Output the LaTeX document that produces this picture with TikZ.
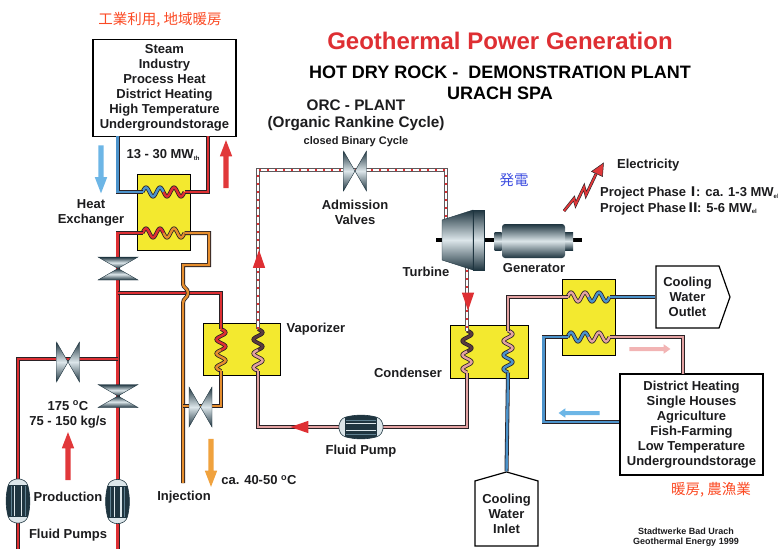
\documentclass[tikz,border=0pt]{standalone}
\usepackage{xcolor}
\usepackage{fontspec}
\usepackage{tikz}
\usetikzlibrary{shapes,shapes.symbols,shapes.arrows,shapes.geometric,positioning,calc}
\setmainfont{Liberation Sans}
\newfontfamily\cjk{Noto Sans CJK JP}
\definecolor{pipeedge}{HTML}{2A2226}
\definecolor{pipered}{HTML}{DE2F33}
\definecolor{pipeblue}{HTML}{4C93CB}
\definecolor{pipepink}{HTML}{E3A2A2}
\definecolor{pipeorange}{HTML}{E68E2E}
\definecolor{pipedark}{HTML}{5A3A40}
\definecolor{hxyellow}{HTML}{F3E92F}
\definecolor{steelA}{HTML}{1F3540}
\definecolor{steelB}{HTML}{DCE6EA}
\definecolor{steelC}{HTML}{5F8090}
\definecolor{skyarrow}{HTML}{6DB6E6}
\definecolor{redarrow}{HTML}{E1383A}
\definecolor{orangearrow}{HTML}{F0A23E}
\definecolor{pinkarrow}{HTML}{F2B4B4}
\definecolor{labelred}{HTML}{FB4A24}
\definecolor{labelblue}{HTML}{3F4FE0}
\definecolor{labeltext}{HTML}{1C1C1E}
% coils, valves and pumps
\newcommand{\hcoil}[4]{%
  \coordinate (#1) at (#2);
  \coordinate (#1-w) at ([xshift=-21pt]#1);
  \coordinate (#1-e) at ([xshift=21pt]#1);
  \draw[#3, shift={(#1)}] plot[domain=-21:0, samples=31] (\x, {4.5*sin(\x*360/14)});
  \draw[#4, shift={(#1)}] plot[domain=0:21, samples=31] (\x, {4.5*sin(\x*360/14)});
}
\newcommand{\vcoil}[4]{%
  \coordinate (#1) at (#2);
  \coordinate (#1-n) at ([yshift=21pt]#1);
  \coordinate (#1-s) at ([yshift=-21pt]#1);
  \draw[#3, shift={(#1)}] plot[domain=-21:0, samples=31] ({-4.5*sin(\x*360/14)}, \x);
  \draw[#4, shift={(#1)}] plot[domain=0:21, samples=31] ({-4.5*sin(\x*360/14)}, \x);
}
\newcommand{\gatevalve}[3]{%
  \coordinate (#1) at (#2);
  \shade[shift={(#1)}, rotate=#3, top color=steelA, bottom color=steelA, middle color=steelB, draw=steelA, line width=0.4pt]
    (-11.5,-20) -- (0,0) -- (-11.5,20) -- cycle;
  \shade[shift={(#1)}, rotate=#3, top color=steelA, bottom color=steelA, middle color=steelB, draw=steelA, line width=0.4pt]
    (11.5,-20) -- (0,0) -- (11.5,20) -- cycle;
}
\newcommand{\fluidpump}[3]{%
  \coordinate (#1) at (#2);
  \begin{scope}[shift={(#1)}, rotate=#3]
    \fill[steelB, draw=steelA, line width=0.6pt] (-10,-15) .. controls (-8,-24.5) and (8,-24.5) .. (10,-15)
      .. controls (12.5,-5) and (12.5,5) .. (10,15) .. controls (8,24.5) and (-8,24.5) .. (-10,15)
      .. controls (-12.5,5) and (-12.5,-5) .. cycle;
    \begin{scope}
      \clip (-10,-15) .. controls (-8,-24.5) and (8,-24.5) .. (10,-15)
        .. controls (12.5,-5) and (12.5,5) .. (10,15) .. controls (8,24.5) and (-8,24.5) .. (-10,15)
        .. controls (-12.5,5) and (-12.5,-5) .. cycle;
      \fill[steelA] (-14,-16) rectangle (14,16);
      \fill[steelC] (-7.5,-15) rectangle (-6.5,15);
      \fill[steelB] (-4,-15) rectangle (-2.8,15);
      \fill[steelB] (2.8,-15) rectangle (4,15);
      \fill[steelC] (6.5,-15) rectangle (7.5,15);
    \end{scope}
  \end{scope}
}
\newcommand{\subel}[1]{\raisebox{-1.5pt}{\fontsize{6}{6}\selectfont #1}}
\begin{document}
\begin{tikzpicture}[
    x=1pt, y=-1pt,
    font=\fontsize{13}{15.1}\selectfont\bfseries,
    text=labeltext,
    pipe/.style={draw=pipeedge, line width=4pt, line join=miter, postaction={draw=#1, line width=2.4pt}},
    hotpipe/.style={pipe=pipered},
    coldpipe/.style={pipe=pipeblue},
    warmpipe/.style={pipe=pipepink},
    returnpipe/.style={pipe=pipeorange},
    darkpipe/.style={pipe=pipedark},
    orcpipe/.style={draw=pipeedge!75, line width=4pt, line join=miter,
        postaction={draw=white, line width=2pt},
        postaction={draw=pipered, line width=2pt, dash pattern=on 1.6pt off 6.4pt}},
    exchanger/.style={rectangle, draw=black, fill=hxyellow, line width=1pt, inner sep=0pt},
    infobox/.style={rectangle, draw=black, fill=white, line width=1.3pt, align=center, inner sep=0pt},
    caption/.style={align=center, inner sep=0pt},
    jplabel/.style={inner sep=0pt, font=\cjk\fontsize{14.5}{17}\selectfont},
    flowarrow/.style={single arrow, draw=none, inner sep=2.4pt, single arrow head extend=3.6pt,
        single arrow tip angle=42, minimum height=48pt},
    smallarrow/.style={single arrow, draw=none, inner sep=1.8pt, single arrow head extend=2.8pt,
        single arrow tip angle=70, minimum height=41pt},
    flowhead/.style={isosceles triangle, isosceles triangle apex angle=38, draw=none, fill=pipered,
        inner sep=0pt, minimum height=18pt}
]
    \useasboundingbox (0,0) rectangle (778,549);

    % Titles
    \node[caption, text=pipered, font=\fontsize{24}{28}\selectfont\bfseries] (title) at (500,41) {Geothermal Power Generation};
    \node[caption, text=black, font=\fontsize{18}{21}\selectfont\bfseries] (subtitle) at (500,82.5) {HOT DRY ROCK -\ \ DEMONSTRATION PLANT\\URACH SPA};
    \node[jplabel, text=labelred] (usejp) at (160,20) {工業利用, 地域暖房};
    \node[jplabel, text=labelred] (heatjp) at (711,490) {暖房, 農漁業};
    \node[jplabel, text=labelblue] (powerjp) at (514,180) {発電};

    % Boxes
    \node[infobox, minimum width=143pt, minimum height=97pt] (steambox) at (164.5,88)
        {Steam\\Industry\\Process Heat\\District Heating\\High Temperature\\Undergroundstorage};
    \node[infobox, minimum width=143pt, minimum height=101pt] (districtbox) at (691.5,424.5)
        {District Heating\\Single Houses\\Agriculture\\Fish-Farming\\Low Temperature\\Undergroundstorage};
    \node[signal, signal to=east, signal pointer angle=141, draw=black, fill=white, line width=1.2pt, align=center,
        inner sep=0pt, minimum width=74pt, minimum height=62pt] (coolout) at (687.5,297) {Cooling\\Water\\Outlet};
    \node[signal, signal to=north, signal pointer angle=148, draw=black, fill=white, line width=1.2pt, align=center,
        inner sep=0pt, minimum width=63pt, minimum height=72pt] (coolin) at (506.5,513.5) {Cooling\\Water\\Inlet};

    % Heat exchangers
    \node[exchanger, minimum width=53pt, minimum height=76pt] (hxtop) at (163.5,212) {};
    \node[exchanger, minimum width=77pt, minimum height=52pt] (vaporizer) at (241.5,349) {};
    \node[exchanger, minimum width=78pt, minimum height=53pt] (condenser) at (489,351.5) {};
    \node[exchanger, minimum width=53pt, minimum height=76pt] (hxcool) at (588.5,317) {};

    \hcoil{hxtopA}{163.5,192}{coldpipe}{hotpipe}
    \hcoil{hxtopB}{163.5,233}{hotpipe}{returnpipe}
    \vcoil{vapA}{221,350}{hotpipe}{returnpipe}
    \vcoil{vapB}{258,350}{darkpipe}{warmpipe}
    \vcoil{conA}{467,351.5}{darkpipe}{warmpipe}
    \vcoil{conB}{508,351.5}{warmpipe}{coldpipe}
    \hcoil{hxcoolA}{588.5,297}{warmpipe}{coldpipe}
    \hcoil{hxcoolB}{588.5,337}{coldpipe}{warmpipe}

    % Points on the pipes
    \coordinate (steamret) at (208,136);
    \coordinate (prodtee) at (117.5,293);
    \coordinate (prodside) at (117.5,359);
    \coordinate (wellA) at (18,549);
    \coordinate (wellB) at (117.5,549);
    \coordinate (injwell) at (183,483);
    \coordinate (injtee) at (183,406);
    \coordinate (turbinein) at (446,225);
    \coordinate (turbineout) at (467,262);

    % Geothermal side
    \draw[coldpipe] (hxtopA-w) -| (117.5,136);
    \draw[hotpipe] (hxtopA-e) -| (steamret);
    \draw[hotpipe] (hxtopB-w) -| (wellB);
    \draw[hotpipe] (prodtee) -| (vapA-n);
    \draw[hotpipe] (prodside) -| (wellA);
    \draw[returnpipe] (hxtopB-e) -| (209,265) -| (183,284) .. controls (183,288) and (188,288) .. (188,293)
        .. controls (188,298) and (183,298) .. (183,303) -- (injwell);
    \draw[returnpipe] (vapA-s) |- (injtee);

    % ORC side
    \draw[orcpipe] (vapB-n) |- (355,170) -| (turbinein);
    \draw[orcpipe] (turbineout) -- (conA-n);
    \draw[warmpipe] (conA-s) |- (361,427) -| (vapB-s);

    % Cooling and low temperature side
    \draw[warmpipe] (conB-n) |- (hxcoolA-w);
    \draw[coldpipe] (coolin.north) -- (conB-s);
    \draw[coldpipe] (hxcoolA-e) -- (coolout.west);
    \draw[coldpipe] (hxcoolB-w) -| (543.5,422) -- (districtbox.west |- 543.5,422);
    \draw[warmpipe] (hxcoolB-e) -| (683,374);

    % Valves
    \gatevalve{valvetop}{118,268.5}{90}
    \gatevalve{valveside}{68,362}{0}
    \gatevalve{valveprod}{118,396}{90}
    \gatevalve{valveinj}{200.5,407}{0}
    \gatevalve{valveorc}{355,171}{0}

    % Pumps
    \fluidpump{pumpA}{18,501}{0}
    \fluidpump{pumpB}{117.5,501.5}{0}
    \fluidpump{pumpC}{361,427}{90}

    % Turbine and generator
    \draw[black, line width=3.6pt] (436,240) -- (496,240);
    \draw[black, line width=3.6pt] (570,240) -- (582,240);
    \shade[top color=steelA, bottom color=steelA, middle color=steelB, draw=steelA, line width=0.4pt]
        (442,220) -- (473,210) -- (473,270) -- (442,260) -- cycle;
    \shade[top color=steelA, bottom color=steelA, middle color=steelB, draw=steelA, line width=0.4pt]
        (473,210) -- (484,210) -- (484,270) -- (473,270) -- cycle;
    \node[rectangle, top color=steelA, bottom color=steelA, middle color=steelB, minimum width=7pt, minimum height=18pt, inner sep=0pt] (couplingA) at (498,241) {};
    \node[rectangle, top color=steelA, bottom color=steelA, middle color=steelB, minimum width=8pt, minimum height=18pt, inner sep=0pt] (couplingB) at (569,241) {};
    \node[rectangle, rounded corners=3pt, top color=steelA, bottom color=steelA, middle color=steelB, minimum width=63pt, minimum height=34pt, inner sep=0pt] (generator) at (533.5,241) {};

    % Flow arrows
    \node[flowarrow, fill=skyarrow, rotate=-90] (arrowcold) at (101,166) {};
    \node[flowarrow, fill=redarrow, rotate=90] (arrowhot) at (226,167.5) {};
    \node[flowarrow, fill=redarrow, rotate=90] (arrowprod) at (68,459.5) {};
    \node[flowarrow, fill=orangearrow, rotate=-90] (arrowinj) at (211,459.5) {};
    \node[smallarrow, fill=pinkarrow] (arrowwarm) at (648.5,349) {};
    \node[smallarrow, fill=skyarrow, rotate=180] (arrowback) at (580.5,413) {};
    \node[flowhead, rotate=90] (headup) at (259,263.5) {};
    \node[flowhead, rotate=-90] (headdown) at (468,297) {};
    \node[flowhead, rotate=180] (headleft) at (304,427) {};

    % Electricity
    \draw[pipeedge, line width=3pt, line join=miter] (564,211) -- (574,198.5) -- (575.7,204.5) -- (584,187) -- (586,195) -- (596,174);
    \draw[redarrow, line width=1.8pt, line join=miter] (564,211) -- (574,198.5) -- (575.7,204.5) -- (584,187) -- (586,195) -- (596,174);
    \fill[redarrow, draw=pipeedge, line width=0.5pt] (603.5,163) -- (591.5,171.5) -- (602.5,176.5) -- cycle;

    % Labels
    \node[caption] (mwtop) at (163,155) {13 - 30 MW\subel{th}};
    \node[caption] (hxlabel) at (91,212.5) {Heat\\Exchanger};
    \node[caption] (wellflow) at (68,414.5) {175 \textsuperscript{o}C\\75 - 150 kg/s};
    \node[caption] (production) at (68,497) {Production};
    \node[caption] (fluidpumps) at (68,535) {Fluid Pumps};
    \node[caption] (injection) at (184,497) {Injection};
    \node[caption] (injtemp) at (259,480) {ca. 40-50 \textsuperscript{o}C};
    \node[caption, font=\fontsize{15.3}{17}\selectfont\bfseries] (orclabel) at (356,115) {ORC - PLANT\\(Organic Rankine Cycle)};
    \node[caption, font=\fontsize{11}{12}\selectfont\bfseries] (binary) at (356,141.5) {closed Binary Cycle};
    \node[caption] (admission) at (355,212) {Admission\\Valves};
    \node[caption] (vaplabel) at (316,329) {Vaporizer};
    \node[caption] (conlabel) at (408,373) {Condenser};
    \node[caption] (pumplabel) at (361,451) {Fluid Pump};
    \node[caption] (turbinelabel) at (426,272) {Turbine};
    \node[caption] (genlabel) at (534,268.5) {Generator};
    \node[caption, anchor=west] (electricity) at (617,165) {Electricity};
    \node[caption, anchor=west, align=left] (phases) at (600,201) {Project Phase\hspace{0.5pt}{\cjk Ⅰ}\hspace{-3.5pt}: ca. 1-3 MW\subel{el}\\Project Phase\hspace{0.5pt}{\cjk Ⅱ}\hspace{-2.5pt}: 5-6 MW\subel{el}};
    \node[caption, font=\fontsize{9}{10.5}\selectfont\bfseries] (credit) at (686,537) {Stadtwerke Bad Urach\\Geothermal Energy 1999};
\end{tikzpicture}
\end{document}
